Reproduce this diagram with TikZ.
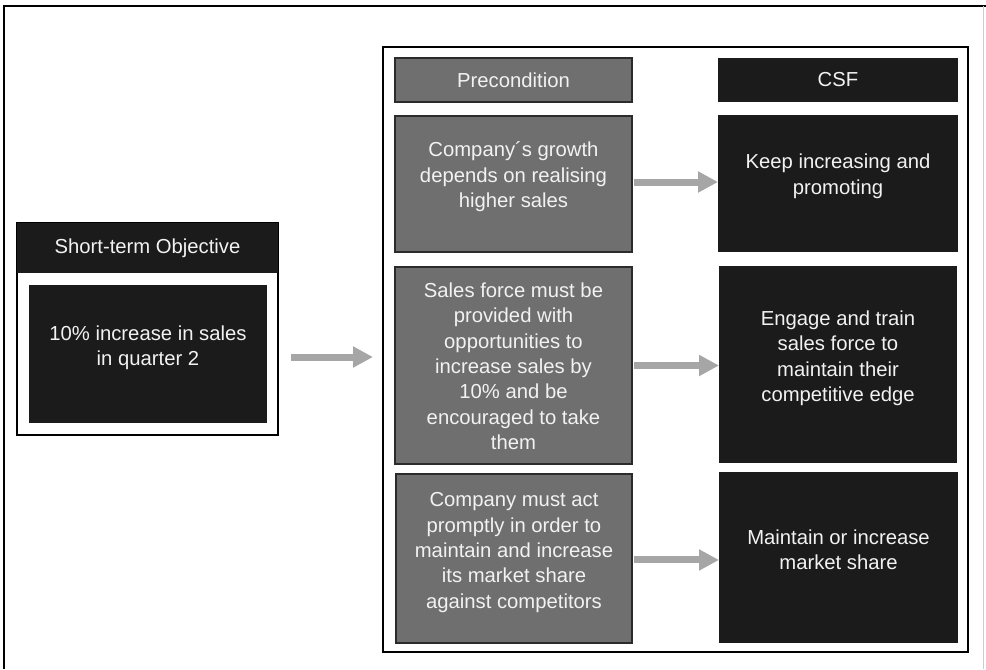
\documentclass[tikz,border=0pt]{standalone}
\usepackage{fontspec}
\setmainfont{Liberation Sans}
\usetikzlibrary{arrows.meta}
\definecolor{pregray}{HTML}{6F6F6F}
\definecolor{csfblack}{HTML}{1B1B1B}
\definecolor{arrowgray}{HTML}{A6A6A6}
\definecolor{edgegray}{HTML}{2B2B2B}
\definecolor{textwhite}{HTML}{F2F2F2}
% #1 extra height, #2 extra depth (moves text down / up inside the box)
\newcommand\tbx[3]{\raisebox{0pt}[\dimexpr\height+#1\relax][\dimexpr\depth+#2\relax]{\begin{tabular}{@{}c@{}}#3\end{tabular}}}
\begin{document}
\begin{tikzpicture}[x=0.75pt,y=-0.75pt,
  every node/.style={font=\fontsize{15.2}{19}\selectfont, text=textwhite, inner sep=0pt, outer sep=0pt},
  box/.style 2 args={anchor=north west, minimum width=#1*0.75pt, minimum height=#2*0.75pt},
  pre/.style={fill=pregray, draw=edgegray, line width=1.4pt},
  csf/.style={fill=csfblack},
  frame/.style={draw=black, line width=1.5pt, fill=white},
  arr/.style={draw=arrowgray, line width=5.25pt, -{Triangle[length=15pt,width=15pt]}}]
\useasboundingbox (0,0) rectangle (986,669);
% page border (top and left dark, right faint)
\draw[draw=black, line width=1.1pt] (4,669) -- (4,6) -- (986,6);
\draw[draw=black!20, line width=0.6pt] (983.5,6) -- (983.5,669);

% short-term objective
\node[box={261}{212}, draw=black, line width=1.1pt, fill=white] (obj) at (17,223) {};
\node[box={261}{50}, csf] (objhead) at (17,223) {Short-term Objective};
\node[box={238}{138}, csf] (objin) at (29,285) {\tbx{0pt}{9pt}{10\% increase in sales\\in quarter 2}};

% main frame
\node[box={585}{605}, frame] (frm) at (383,47) {};

% headers
\node[box={237}{44}, pre] (prehead) at (395,58) {Precondition};
\node[box={240}{44}, csf] (csfhead) at (718,58) {CSF};

% row 1
\node[box={237}{136}, pre] (p1) at (395,116) {\tbx{0pt}{10.5pt}{Company´s growth\\depends on realising\\higher sales}};
\node[box={240}{137}, csf] (c1) at (718,115) {\tbx{0pt}{10.5pt}{Keep increasing and\\promoting}};

% row 2
\node[box={237}{197}, pre] (p2) at (395,267) {\tbx{4.5pt}{0pt}{Sales force must be\\provided with\\opportunities to\\increase sales by\\10\% and be\\encouraged to take\\them}};
\node[box={238}{197}, csf] (c2) at (719,266) {\tbx{0pt}{9pt}{Engage and train\\sales force to\\maintain their\\competitive edge}};

% row 3
\node[box={236}{169}, pre] (p3) at (396,474) {\tbx{0pt}{9pt}{Company must act\\promptly in order to\\maintain and increase\\its market share\\against competitors}};
\node[box={239}{171}, csf] (c3) at (719,472) {\tbx{0pt}{8.25pt}{Maintain or increase\\market share}};

% arrows
\draw[arr, shorten <=18pt, shorten >=7.5pt] ([yshift=-2.25pt]objin.east) -- ([yshift=-2.25pt]objin.east -| frm.west);
\draw[arr, shorten <=1.5pt] ([yshift=1.5pt]p1.east) -- ([yshift=1.5pt]p1.east -| c1.west);
\draw[arr, shorten <=1.5pt] (p2.east) -- (p2.east -| c2.west);
\draw[arr, shorten <=1.5pt] ([yshift=-1.1pt]p3.east) -- ([yshift=-1.1pt]p3.east -| c3.west);
\end{tikzpicture}
\end{document}
